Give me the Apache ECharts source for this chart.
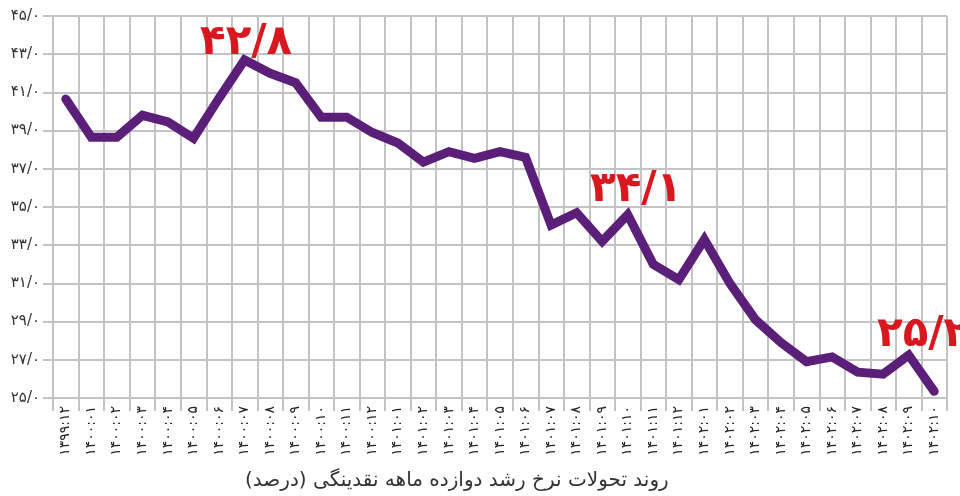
<!DOCTYPE html>
<html>
<head>
<meta charset="utf-8">
<script src="https://cdn.jsdelivr.net/npm/echarts@6/dist/echarts.min.js"></script>
<style>
  html, body { margin: 0; padding: 0; background: #fff; }
  #chart { width: 960px; height: 496px; }
</style>
</head>
<body>
<div id="chart"></div>
<script>
// months (year:month), Persian digits
const months = [
  '۱۳۹۹:۱۲',
  '۱۴۰۰:۰۱', '۱۴۰۰:۰۲', '۱۴۰۰:۰۳', '۱۴۰۰:۰۴', '۱۴۰۰:۰۵', '۱۴۰۰:۰۶',
  '۱۴۰۰:۰۷', '۱۴۰۰:۰۸', '۱۴۰۰:۰۹', '۱۴۰۰:۱۰', '۱۴۰۰:۱۱', '۱۴۰۰:۱۲',
  '۱۴۰۱:۰۱', '۱۴۰۱:۰۲', '۱۴۰۱:۰۳', '۱۴۰۱:۰۴', '۱۴۰۱:۰۵', '۱۴۰۱:۰۶',
  '۱۴۰۱:۰۷', '۱۴۰۱:۰۸', '۱۴۰۱:۰۹', '۱۴۰۱:۱۰', '۱۴۰۱:۱۱', '۱۴۰۱:۱۲',
  '۱۴۰۲:۰۱', '۱۴۰۲:۰۲', '۱۴۰۲:۰۳', '۱۴۰۲:۰۴', '۱۴۰۲:۰۵', '۱۴۰۲:۰۶',
  '۱۴۰۲:۰۷', '۱۴۰۲:۰۸', '۱۴۰۲:۰۹', '۱۴۰۲:۱۰'
];

// twelve-month liquidity growth (%)
const growth = [
  40.65,
  38.65, 38.65, 39.8, 39.45, 38.6, 40.7, 42.7, 42.0, 41.5, 39.7, 39.7, 38.9,
  38.35, 37.35, 37.9, 37.55, 37.9, 37.6, 34.05, 34.7, 33.2, 34.6, 32.0, 31.2,
  33.3, 31.0, 29.1, 27.9, 26.9, 27.15, 26.35, 26.25, 27.25, 25.35
];

// highlighted values written on the chart
const callouts = ['۴۲/۸', '۳۴/۱', '۲۵/۲'];

const caption = 'روند تحولات نرخ رشد دوازده ماهه نقدینگی (درصد)';

const faDigits = '۰۱۲۳۴۵۶۷۸۹';
const toFa = (s) => String(s).replace(/[0-9]/g, (d) => faDigits[+d]);

const gridColor = '#c3c3c6';
const font = 'DejaVu Sans';

const chart = echarts.init(document.getElementById('chart'));

chart.setOption({
  backgroundColor: '#fff',
  animation: false,
  grid: {
    left: 53,
    right: 13,
    top: 16,
    bottom: 98,
  },
  xAxis: {
    type: 'category',
    data: months,
    boundaryGap: true,
    axisLine: { show: true, lineStyle: { color: gridColor, width: 2 } },
    axisTick: { show: true, length: 13, lineStyle: { color: gridColor, width: 2 } },
    splitLine: { show: true, lineStyle: { color: gridColor, width: 2 } },
    axisLabel: {
      interval: 0,
      rotate: 90,
      margin: 8,
      color: '#222',
      fontSize: 14,
      fontFamily: font,
    },
  },
  yAxis: {
    type: 'value',
    min: 25,
    max: 45,
    interval: 2,
    axisLine: { show: true, lineStyle: { color: gridColor, width: 2 } },
    axisTick: { show: true, length: 10, lineStyle: { color: gridColor, width: 2 } },
    splitLine: { show: true, lineStyle: { color: gridColor, width: 2 } },
    axisLabel: {
      margin: 13,
      color: '#333',
      fontSize: 15,
      fontFamily: font,
      formatter: (v) => toFa(v + '/0'),
    },
  },
  series: [
    {
      type: 'line',
      data: growth,
      symbol: 'none',
      lineStyle: { color: '#5b1e79', width: 9, cap: 'round', join: 'miter' },
      z: 5,
    },
  ],
  graphic: [
    {
      type: 'text', left: 200, top: 22, z: 10,
      style: { text: callouts[0], fill: '#d7181f', font: 'bold 42px "DejaVu Sans"' },
    },
    {
      type: 'text', left: 590, top: 169, z: 10,
      style: { text: callouts[1], fill: '#d7181f', font: 'bold 42px "DejaVu Sans"' },
    },
    {
      type: 'text', left: 877, top: 314, z: 10,
      style: { text: callouts[2], fill: '#d7181f', font: 'bold 42px "DejaVu Sans"' },
    },
    {
      type: 'text', left: 245, top: 471, z: 10,
      style: {
        text: '\u200F' + caption + '\u200F',
        fill: '#333',
        font: '20px "DejaVu Sans"',
      },
    },
  ],
});
</script>
</body>
</html>
